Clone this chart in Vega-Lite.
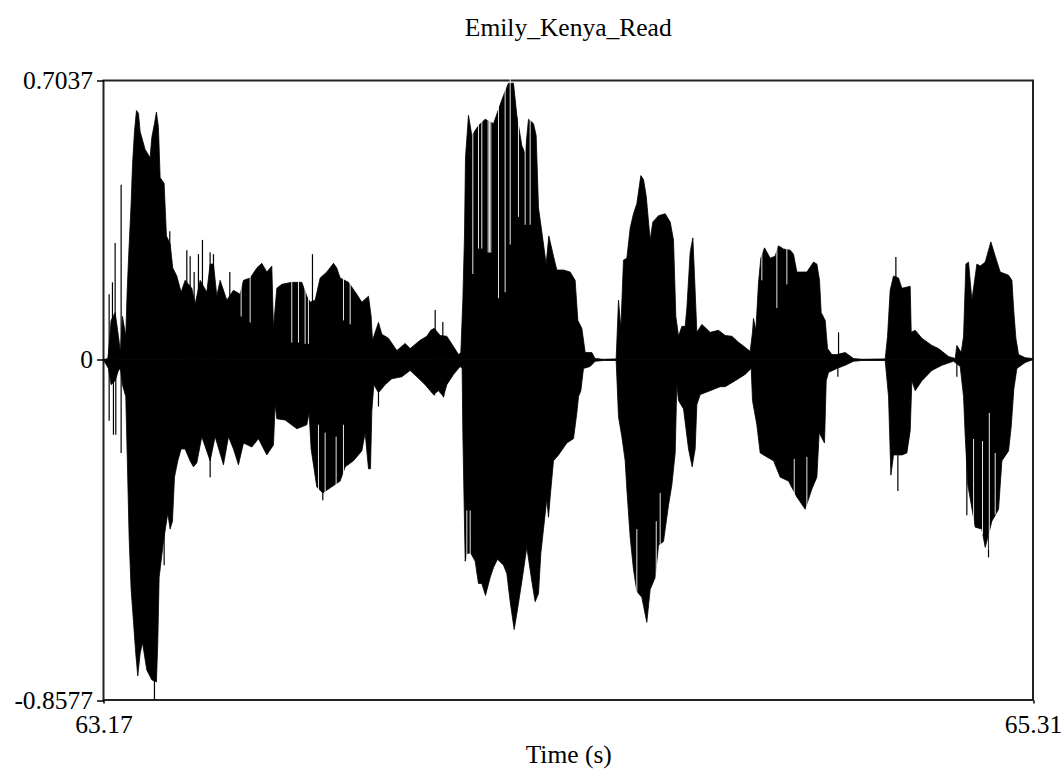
{"$schema":"https://vega.github.io/schema/vega-lite/v6.json","autosize":"none","width":929.5,"height":619.5,"padding":{"left":103.5,"top":80.5,"right":31,"bottom":69},"background":"white",
"title":{"text":"Emily_Kenya_Read","font":"Liberation Serif","fontSize":25.5,"fontWeight":"normal","color":"#000","anchor":"middle","offset":27.5},
"config":{"view":{"stroke":"#222","strokeWidth":2}},
"datasets":{
"upper":[{"t":63.1699,"v":0},{"t":63.1799,"v":0.003},{"t":63.1814,"v":0.018},{"t":63.1875,"v":0.099},{"t":63.1968,"v":0.119},{"t":63.2044,"v":0.059},{"t":63.209,"v":0.018},{"t":63.2136,"v":0.109},{"t":63.2213,"v":0.059},{"t":63.2244,"v":0.17},{"t":63.2275,"v":0.251},{"t":63.2336,"v":0.393},{"t":63.2367,"v":0.489},{"t":63.2413,"v":0.575},{"t":63.2459,"v":0.628},{"t":63.2505,"v":0.621},{"t":63.2543,"v":0.575},{"t":63.2658,"v":0.53},{"t":63.2773,"v":0.509},{"t":63.2812,"v":0.56},{"t":63.2873,"v":0.595},{"t":63.2919,"v":0.624},{"t":63.2965,"v":0.585},{"t":63.3004,"v":0.459},{"t":63.3096,"v":0.444},{"t":63.3149,"v":0.312},{"t":63.3234,"v":0.292},{"t":63.3295,"v":0.231},{"t":63.3387,"v":0.211},{"t":63.3487,"v":0.17},{"t":63.3579,"v":0.2},{"t":63.3733,"v":0.18},{"t":63.381,"v":0.14},{"t":63.3925,"v":0.2},{"t":63.4078,"v":0.17},{"t":63.4155,"v":0.241},{"t":63.4232,"v":0.241},{"t":63.4309,"v":0.16},{"t":63.4385,"v":0.2},{"t":63.4539,"v":0.15},{"t":63.4692,"v":0.175},{"t":63.4846,"v":0.165},{"t":63.4923,"v":0.2},{"t":63.5076,"v":0.206},{"t":63.5229,"v":0.231},{"t":63.5345,"v":0.243},{"t":63.546,"v":0.221},{"t":63.5575,"v":0.236},{"t":63.5613,"v":0.079},{"t":63.569,"v":0.18},{"t":63.5805,"v":0.19},{"t":63.6035,"v":0.195},{"t":63.6266,"v":0.195},{"t":63.6381,"v":0.16},{"t":63.6457,"v":0.145},{"t":63.6573,"v":0.15},{"t":63.6688,"v":0.206},{"t":63.6841,"v":0.221},{"t":63.6995,"v":0.243},{"t":63.7071,"v":0.231},{"t":63.7148,"v":0.206},{"t":63.734,"v":0.195},{"t":63.7532,"v":0.165},{"t":63.7647,"v":0.145},{"t":63.7801,"v":0.16},{"t":63.7862,"v":0.109},{"t":63.7893,"v":0.049},{"t":63.8031,"v":0.094},{"t":63.8108,"v":0.064},{"t":63.8261,"v":0.054},{"t":63.8453,"v":0.023},{"t":63.8645,"v":0.041},{"t":63.876,"v":0.028},{"t":63.899,"v":0.049},{"t":63.9144,"v":0.059},{"t":63.9236,"v":0.074},{"t":63.9313,"v":0.079},{"t":63.9451,"v":0.061},{"t":63.9604,"v":0.059},{"t":63.9758,"v":0.033},{"t":63.9873,"v":0.013},{"t":63.9927,"v":0.018},{"t":63.9973,"v":0.15},{"t":64.0011,"v":0.312},{"t":64.0034,"v":0.509},{"t":64.0103,"v":0.616},{"t":64.018,"v":0.565},{"t":64.0333,"v":0.59},{"t":64.0487,"v":0.606},{"t":64.0679,"v":0.595},{"t":64.0794,"v":0.631},{"t":64.0909,"v":0.666},{"t":64.1024,"v":0.697},{"t":64.1139,"v":0.697},{"t":64.1216,"v":0.616},{"t":64.1331,"v":0.54},{"t":64.1408,"v":0.519},{"t":64.1485,"v":0.606},{"t":64.16,"v":0.595},{"t":64.1661,"v":0.565},{"t":64.1715,"v":0.383},{"t":64.1792,"v":0.322},{"t":64.1891,"v":0.241},{"t":64.1953,"v":0.312},{"t":64.206,"v":0.261},{"t":64.2137,"v":0.226},{"t":64.2291,"v":0.226},{"t":64.2444,"v":0.221},{"t":64.2559,"v":0.2},{"t":64.2621,"v":0.099},{"t":64.2713,"v":0.079},{"t":64.279,"v":0.018},{"t":64.2943,"v":0.018},{"t":64.302,"v":0.003},{"t":64.3212,"v":0.001},{"t":64.3503,"v":0.002},{"t":64.3557,"v":0.15},{"t":64.3611,"v":0.079},{"t":64.3672,"v":0.251},{"t":64.3749,"v":0.256},{"t":64.3826,"v":0.332},{"t":64.3902,"v":0.368},{"t":64.3979,"v":0.393},{"t":64.4071,"v":0.464},{"t":64.4133,"v":0.454},{"t":64.4194,"v":0.413},{"t":64.4286,"v":0.302},{"t":64.4347,"v":0.347},{"t":64.4478,"v":0.363},{"t":64.4632,"v":0.368},{"t":64.4747,"v":0.347},{"t":64.4823,"v":0.302},{"t":64.4877,"v":0.109},{"t":64.4939,"v":0.059},{"t":64.5016,"v":0.084},{"t":64.5092,"v":0.084},{"t":64.5131,"v":0.13},{"t":64.5207,"v":0.271},{"t":64.5269,"v":0.307},{"t":64.5307,"v":0.211},{"t":64.5361,"v":0.069},{"t":64.5476,"v":0.089},{"t":64.5668,"v":0.069},{"t":64.586,"v":0.074},{"t":64.6013,"v":0.061},{"t":64.6167,"v":0.059},{"t":64.632,"v":0.044},{"t":64.6589,"v":0.021},{"t":64.6642,"v":0.069},{"t":64.6665,"v":0.104},{"t":64.6719,"v":0.074},{"t":64.6781,"v":0.195},{"t":64.6834,"v":0.256},{"t":64.6919,"v":0.282},{"t":64.7049,"v":0.256},{"t":64.7164,"v":0.261},{"t":64.7241,"v":0.287},{"t":64.7356,"v":0.279},{"t":64.751,"v":0.276},{"t":64.7586,"v":0.266},{"t":64.7663,"v":0.221},{"t":64.7893,"v":0.221},{"t":64.8047,"v":0.246},{"t":64.8124,"v":0.241},{"t":64.8185,"v":0.2},{"t":64.8223,"v":0.119},{"t":64.8316,"v":0.099},{"t":64.8369,"v":0.028},{"t":64.8469,"v":0.013},{"t":64.8584,"v":0.013},{"t":64.8776,"v":0.018},{"t":64.8968,"v":0.003},{"t":64.916,"v":0.001},{"t":64.9697,"v":0.002},{"t":64.9751,"v":0.059},{"t":64.9812,"v":0.175},{"t":64.9889,"v":0.211},{"t":65.0004,"v":0.206},{"t":65.0081,"v":0.18},{"t":65.0273,"v":0.185},{"t":65.0296,"v":0.069},{"t":65.0388,"v":0.074},{"t":65.0542,"v":0.054},{"t":65.0772,"v":0.036},{"t":65.0925,"v":0.028},{"t":65.1155,"v":0.008},{"t":65.1309,"v":0.003},{"t":65.1347,"v":0.036},{"t":65.1447,"v":0.018},{"t":65.1501,"v":0.059},{"t":65.1555,"v":0.241},{"t":65.1616,"v":0.246},{"t":65.1693,"v":0.15},{"t":65.1808,"v":0.241},{"t":65.1885,"v":0.236},{"t":65.2,"v":0.246},{"t":65.213,"v":0.297},{"t":65.223,"v":0.261},{"t":65.2345,"v":0.221},{"t":65.2537,"v":0.213},{"t":65.2614,"v":0.2},{"t":65.266,"v":0.119},{"t":65.2706,"v":0.054},{"t":65.2767,"v":0.013},{"t":65.2921,"v":0.005},{"t":65.309,"v":0.003}],
"lower":[{"t":63.1699,"v":0},{"t":63.1814,"v":-0.022},{"t":63.1875,"v":-0.063},{"t":63.1968,"v":-0.053},{"t":63.2044,"v":-0.027},{"t":63.209,"v":-0.022},{"t":63.2136,"v":-0.063},{"t":63.2213,"v":-0.093},{"t":63.2252,"v":-0.27},{"t":63.229,"v":-0.448},{"t":63.2336,"v":-0.579},{"t":63.239,"v":-0.66},{"t":63.2443,"v":-0.741},{"t":63.2489,"v":-0.797},{"t":63.2543,"v":-0.741},{"t":63.2597,"v":-0.713},{"t":63.2697,"v":-0.782},{"t":63.2812,"v":-0.807},{"t":63.2919,"v":-0.812},{"t":63.295,"v":-0.711},{"t":63.2981,"v":-0.549},{"t":63.308,"v":-0.458},{"t":63.318,"v":-0.387},{"t":63.3234,"v":-0.427},{"t":63.3288,"v":-0.407},{"t":63.3334,"v":-0.296},{"t":63.341,"v":-0.255},{"t":63.3487,"v":-0.225},{"t":63.3579,"v":-0.225},{"t":63.3694,"v":-0.255},{"t":63.3771,"v":-0.27},{"t":63.3848,"v":-0.26},{"t":63.3963,"v":-0.194},{"t":63.4155,"v":-0.255},{"t":63.427,"v":-0.194},{"t":63.4462,"v":-0.265},{"t":63.4577,"v":-0.194},{"t":63.4692,"v":-0.225},{"t":63.4807,"v":-0.265},{"t":63.4923,"v":-0.21},{"t":63.5115,"v":-0.22},{"t":63.5268,"v":-0.199},{"t":63.546,"v":-0.24},{"t":63.5613,"v":-0.215},{"t":63.5651,"v":-0.113},{"t":63.569,"v":-0.149},{"t":63.5882,"v":-0.152},{"t":63.6151,"v":-0.174},{"t":63.6381,"v":-0.164},{"t":63.6434,"v":-0.134},{"t":63.648,"v":-0.225},{"t":63.6611,"v":-0.321},{"t":63.6749,"v":-0.336},{"t":63.688,"v":-0.326},{"t":63.7148,"v":-0.306},{"t":63.7264,"v":-0.27},{"t":63.7455,"v":-0.255},{"t":63.7647,"v":-0.23},{"t":63.7724,"v":-0.184},{"t":63.7801,"v":-0.275},{"t":63.7847,"v":-0.275},{"t":63.7878,"v":-0.129},{"t":63.7924,"v":-0.063},{"t":63.8031,"v":-0.083},{"t":63.8185,"v":-0.063},{"t":63.8338,"v":-0.048},{"t":63.8568,"v":-0.043},{"t":63.876,"v":-0.027},{"t":63.8914,"v":-0.043},{"t":63.9105,"v":-0.063},{"t":63.9297,"v":-0.088},{"t":63.9412,"v":-0.078},{"t":63.9528,"v":-0.093},{"t":63.9604,"v":-0.063},{"t":63.9758,"v":-0.037},{"t":63.9911,"v":-0.017},{"t":63.9957,"v":-0.022},{"t":63.9973,"v":-0.184},{"t":64.0027,"v":-0.508},{"t":64.0065,"v":-0.488},{"t":64.0157,"v":-0.488},{"t":64.0257,"v":-0.508},{"t":64.0333,"v":-0.564},{"t":64.041,"v":-0.564},{"t":64.0495,"v":-0.594},{"t":64.0602,"v":-0.549},{"t":64.0679,"v":-0.524},{"t":64.0771,"v":-0.503},{"t":64.0909,"v":-0.518},{"t":64.0986,"v":-0.539},{"t":64.1063,"v":-0.61},{"t":64.1155,"v":-0.68},{"t":64.1216,"v":-0.64},{"t":64.1331,"v":-0.559},{"t":64.1446,"v":-0.473},{"t":64.1562,"v":-0.559},{"t":64.1638,"v":-0.61},{"t":64.1715,"v":-0.589},{"t":64.1769,"v":-0.488},{"t":64.183,"v":-0.427},{"t":64.1907,"v":-0.351},{"t":64.1945,"v":-0.397},{"t":64.1984,"v":-0.346},{"t":64.206,"v":-0.255},{"t":64.2176,"v":-0.24},{"t":64.2367,"v":-0.21},{"t":64.2521,"v":-0.199},{"t":64.2598,"v":-0.134},{"t":64.2636,"v":-0.093},{"t":64.269,"v":-0.078},{"t":64.2751,"v":-0.022},{"t":64.2904,"v":-0.017},{"t":64.302,"v":-0.004},{"t":64.3212,"v":-0.002},{"t":64.3503,"v":-0.002},{"t":64.3557,"v":-0.144},{"t":64.3634,"v":-0.194},{"t":64.3711,"v":-0.255},{"t":64.3749,"v":-0.326},{"t":64.3826,"v":-0.448},{"t":64.3902,"v":-0.529},{"t":64.3979,"v":-0.584},{"t":64.4094,"v":-0.599},{"t":64.4209,"v":-0.662},{"t":64.4286,"v":-0.579},{"t":64.4401,"v":-0.549},{"t":64.4478,"v":-0.468},{"t":64.4593,"v":-0.458},{"t":64.4708,"v":-0.367},{"t":64.4785,"v":-0.316},{"t":64.4862,"v":-0.235},{"t":64.49,"v":-0.063},{"t":64.4939,"v":-0.103},{"t":64.5054,"v":-0.124},{"t":64.5169,"v":-0.225},{"t":64.5253,"v":-0.27},{"t":64.5322,"v":-0.225},{"t":64.5361,"v":-0.113},{"t":64.5438,"v":-0.088},{"t":64.5668,"v":-0.078},{"t":64.5898,"v":-0.068},{"t":64.6013,"v":-0.068},{"t":64.6243,"v":-0.053},{"t":64.6473,"v":-0.037},{"t":64.6612,"v":-0.022},{"t":64.6642,"v":-0.103},{"t":64.6742,"v":-0.164},{"t":64.6819,"v":-0.235},{"t":64.6972,"v":-0.245},{"t":64.7126,"v":-0.255},{"t":64.728,"v":-0.296},{"t":64.7471,"v":-0.306},{"t":64.7663,"v":-0.346},{"t":64.7855,"v":-0.377},{"t":64.8009,"v":-0.326},{"t":64.8124,"v":-0.296},{"t":64.8177,"v":-0.184},{"t":64.83,"v":-0.21},{"t":64.8339,"v":-0.053},{"t":64.8392,"v":-0.032},{"t":64.8584,"v":-0.022},{"t":64.8776,"v":-0.014},{"t":64.8968,"v":-0.004},{"t":64.916,"v":-0.002},{"t":64.9697,"v":-0.002},{"t":64.9774,"v":-0.093},{"t":64.9828,"v":-0.291},{"t":64.9889,"v":-0.24},{"t":65.0081,"v":-0.24},{"t":65.0196,"v":-0.235},{"t":65.0273,"v":-0.179},{"t":65.0311,"v":-0.053},{"t":65.0388,"v":-0.078},{"t":65.0542,"v":-0.053},{"t":65.0772,"v":-0.027},{"t":65.1002,"v":-0.014},{"t":65.1271,"v":-0.004},{"t":65.1424,"v":-0.017},{"t":65.1501,"v":-0.093},{"t":65.154,"v":-0.194},{"t":65.16,"v":-0.316},{"t":65.1769,"v":-0.422},{"t":65.1923,"v":-0.427},{"t":65.2,"v":-0.473},{"t":65.2153,"v":-0.407},{"t":65.2307,"v":-0.377},{"t":65.2384,"v":-0.255},{"t":65.2537,"v":-0.23},{"t":65.2598,"v":-0.169},{"t":65.266,"v":-0.073},{"t":65.2729,"v":-0.022},{"t":65.2921,"v":-0.007},{"t":65.309,"v":0}],
"spikes":[{"t":63.183,"v":0.165},{"t":63.1906,"v":0.195},{"t":63.1968,"v":0.294},{"t":63.2106,"v":0.441},{"t":63.3226,"v":0.324},{"t":63.3618,"v":0.276},{"t":63.3695,"v":0.261},{"t":63.3787,"v":0.221},{"t":63.3886,"v":0.266},{"t":63.3978,"v":0.302},{"t":63.4155,"v":0.271},{"t":63.4232,"v":0.266},{"t":63.4608,"v":0.221},{"t":63.6511,"v":0.266},{"t":63.183,"v":-0.154},{"t":63.1929,"v":-0.189},{"t":63.1983,"v":-0.189},{"t":63.2106,"v":-0.235},{"t":63.2873,"v":-0.8577},{"t":63.3096,"v":-0.518},{"t":63.4155,"v":-0.296},{"t":63.3787,"v":-0.26},{"t":63.6749,"v":-0.354},{"t":63.8031,"v":-0.118},{"t":63.9336,"v":0.125},{"t":63.9512,"v":0.095},{"t":63.9321,"v":-0.09},{"t":63.9528,"v":-0.095},{"t":64.8623,"v":0.069},{"t":64.9943,"v":0.259},{"t":64.8607,"v":-0.043},{"t":64.9989,"v":-0.331},{"t":65.1347,"v":-0.043},{"t":65.1577,"v":-0.392},{"t":65.2076,"v":-0.498}],
"slits":[{"t":64.0203,"a":0.216,"b":0.6},{"t":64.0333,"a":0.28,"b":0.6},{"t":64.041,"a":0.28,"b":0.62},{"t":64.0556,"a":0.27,"b":0.62},{"t":64.0586,"a":0.27,"b":0.62},{"t":64.0617,"a":0.27,"b":0.62},{"t":64.0794,"a":0.155,"b":0.64},{"t":64.0947,"a":0.17,"b":0.69},{"t":64.1063,"a":0.29,"b":0.71},{"t":64.1254,"a":0.36,"b":0.62},{"t":64.1408,"a":0.34,"b":0.56},{"t":64.1523,"a":0.34,"b":0.63},{"t":64.0065,"a":-0.38,"b":-0.5},{"t":64.0142,"a":-0.38,"b":-0.5},{"t":64.3979,"a":-0.427,"b":-0.6},{"t":64.4426,"a":-0.407,"b":-0.57},{"t":64.4516,"a":-0.336,"b":-0.48},{"t":63.6035,"a":0.043,"b":0.21},{"t":63.6189,"a":0.043,"b":0.21},{"t":63.6342,"a":0.04,"b":0.19},{"t":63.6418,"a":0.04,"b":0.17},{"t":63.5076,"a":0.094,"b":0.22},{"t":63.4869,"a":0.109,"b":0.19},{"t":63.7225,"a":0.099,"b":0.22},{"t":63.7379,"a":0.089,"b":0.21},{"t":63.6649,"a":-0.164,"b":-0.35},{"t":63.6803,"a":-0.184,"b":-0.35},{"t":63.7056,"a":-0.194,"b":-0.32},{"t":63.7225,"a":-0.164,"b":-0.32},{"t":64.7203,"a":0.13,"b":0.28},{"t":64.6857,"a":0.2,"b":0.28},{"t":64.7433,"a":0.19,"b":0.29},{"t":64.7894,"a":-0.245,"b":-0.38},{"t":64.7603,"a":-0.25,"b":-0.35},{"t":65.2094,"a":-0.134,"b":-0.48},{"t":65.1732,"a":-0.2,"b":-0.43},{"t":65.1938,"a":-0.205,"b":-0.44},{"t":65.223,"a":-0.235,"b":-0.39}]
},
"encoding":{
"x":{"field":"t","type":"quantitative","scale":{"domain":[63.17,65.31],"nice":false,"zero":false},
"axis":{"values":[63.17,65.31],"format":".2f","title":"Time (s)","titleFont":"Liberation Serif","titleFontSize":25.5,"titleFontWeight":"normal","titleColor":"#000","titlePadding":4,"labelFont":"Liberation Serif","labelFontSize":25.5,"labelColor":"#000","labelPadding":9.5,"labelFlush":false,"labelOverlap":false,"labelBound":false,"grid":false,"domain":false,"tickColor":"#000","tickSize":3,"tickWidth":1.5}},
"y":{"field":"v","type":"quantitative","stack":null,"scale":{"domain":[-0.8577,0.7037],"nice":false,"zero":false},
"axis":{"values":[-0.8577,0,0.7037],"labelExpr":"datum.value==0?'0':datum.value>0?'0.7037':'-0.8577'","title":null,"labelFont":"Liberation Serif","labelFontSize":25.5,"labelColor":"#000","labelPadding":4,"labelOverlap":false,"labelBound":false,"grid":false,"domain":false,"tickColor":"#000","tickSize":7,"tickWidth":1.5}}
},
"layer":[
{"data":{"name":"upper"},"mark":{"type":"area","color":"#000","stroke":"#000","strokeWidth":0.8}},
{"data":{"name":"lower"},"mark":{"type":"area","color":"#000","stroke":"#000","strokeWidth":0.8}},
{"data":{"name":"spikes"},"mark":{"type":"rule","color":"#000","strokeWidth":1.2},"encoding":{"y2":{"datum":0}}},
{"data":{"name":"slits"},"mark":{"type":"rule","color":"#fff","strokeWidth":0.9},"encoding":{"y":{"field":"a","type":"quantitative"},"y2":{"field":"b"}}}
]}
